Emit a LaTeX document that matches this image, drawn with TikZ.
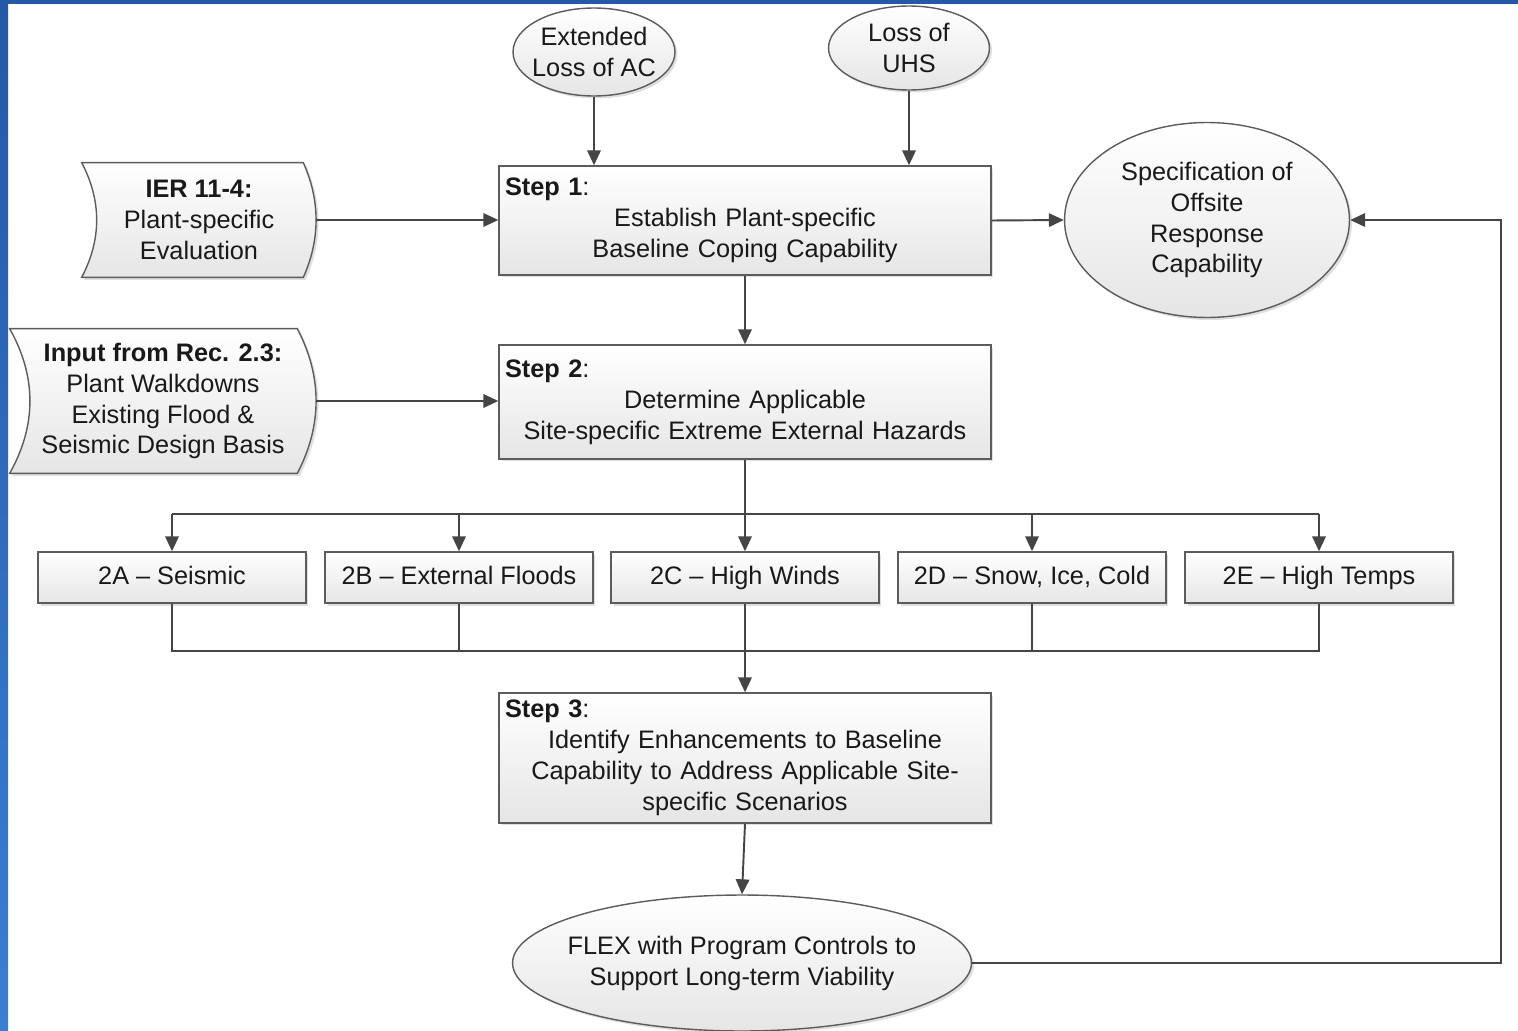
\documentclass[tikz,border=0pt]{standalone}
\usepackage{fontspec}
\setmainfont{Liberation Sans}
\usetikzlibrary{shapes.geometric,arrows.meta,shadows,calc,backgrounds}

\definecolor{wiregray}{HTML}{454545}
\definecolor{edgegray}{HTML}{5C5C5C}
\definecolor{slideblue}{HTML}{2459A7}
\definecolor{slidelight}{HTML}{3B7ED3}

\begin{document}
\begin{tikzpicture}
		[x=0.02cm, y=-0.02cm,
		every node/.style={font=\fontsize{14.4}{17.6}\selectfont, text=black!90},
		panel/.style={draw=edgegray, line width=0.8pt, top color=white, bottom color=black!10,
			drop shadow={shadow xshift=0.05cm, shadow yshift=-0.05cm, opacity=0.25}},
		stepbox/.style={rectangle, panel, minimum width=9.84cm, text width=9.6cm, align=center, inner xsep=2pt},
		hazard/.style={rectangle, panel, minimum width=5.36cm, minimum height=1.02cm, text height=10.5pt, text depth=3pt},
		oval/.style={ellipse, panel},
		ovaltext/.style={align=center},
		docin/.style={align=center, inner sep=0pt},
		wire/.style={draw=wiregray, line width=1.1pt},
		flow/.style={wire, -{Triangle[length=0.3cm, width=0.27cm]}}]
		\useasboundingbox (0,0) rectangle (1518,1031);
		% slide frame
		\fill[slideblue] (0,0) rectangle (1518,4);
		\shade[top color=slideblue, bottom color=slidelight] (0,0) rectangle (8,1031);

		% triggers
		\node[oval, minimum width=3.24cm, minimum height=1.76cm,
			label={[ovaltext]center:{Extended\\Loss of AC}}] (elac) at (594,52) {};
		\node[oval, minimum width=3.22cm, minimum height=1.68cm,
			label={[ovaltext]center:{Loss of\\UHS}}] (eluhs) at (909,48) {};

		% main steps
		\node[stepbox, minimum height=2.18cm] (s1) at (745,220.5)
			{\makebox[9.6cm][l]{\textbf{Step 1}:}\\Establish Plant-specific\\Baseline Coping Capability};
		\node[stepbox, minimum height=2.28cm] (s2) at (745,402)
			{\makebox[9.6cm][l]{\textbf{Step 2}:}\\Determine Applicable\\Site-specific Extreme External Hazards};
		\node[stepbox, minimum height=2.6cm] (s3) at (745,758)
			{\makebox[9.6cm][l]{\textbf{Step 3}:}\\Identify Enhancements to Baseline\\Capability to Address Applicable Site-\\specific Scenarios};

		% inputs
		\node[docin, minimum width=4.68cm, minimum height=2.28cm] (ier) at (199,220)
			{\textbf{IER 11-4:}\\Plant-specific\\Evaluation};
		\node[docin, minimum width=6.12cm, minimum height=2.88cm] (inp) at (163,401)
			{\textbf{Input from Rec. 2.3:}\\Plant Walkdowns\\Existing Flood \&\\Seismic Design Basis};
		\begin{scope}[on background layer]
			\path[panel] (ier.north west) -- ($(ier.north east)+(-13,0)$)
				.. controls +(17,38) and +(17,-38) .. ($(ier.south east)+(-13,0)$)
				-- (ier.south west) .. controls +(20,-38) and +(20,38) .. (ier.north west) -- cycle;
			\path[panel] (inp.north west) -- ($(inp.north east)+(-19,0)$)
				.. controls +(25,48) and +(25,-48) .. ($(inp.south east)+(-19,0)$)
				-- (inp.south west) .. controls +(27,-48) and +(27,48) .. (inp.north west) -- cycle;
		\end{scope}

		% outcomes
		\node[oval, minimum width=5.7cm, minimum height=3.9cm,
			label={[ovaltext]center:{Specification of\\Offsite\\Response\\Capability}}] (spec) at (1207,220) {};
		\node[oval, minimum width=9.18cm, minimum height=2.72cm,
			label={[ovaltext]center:{FLEX with Program Controls to\\Support Long-term Viability}}] (flex) at (742,963) {};

		% hazards
		\node[hazard] (h2a) at (172,577.5) {2A – Seismic};
		\node[hazard] (h2b) at (459,577.5) {2B – External Floods};
		\node[hazard] (h2c) at (745,577.5) {2C – High Winds};
		\node[hazard] (h2d) at (1032,577.5) {2D – Snow, Ice, Cold};
		\node[hazard] (h2e) at (1319,577.5) {2E – High Temps};

		\coordinate (split) at (745,514);
		\coordinate (join) at (745,651);
		\coordinate (loop) at (1501,220);

		% connectors
		\draw[flow] (elac.south) -- (elac.south |- s1.north);
		\draw[flow] (eluhs.south) -- (eluhs.south |- s1.north);
		\draw[flow] (ier.east) -- (ier.east -| s1.west);
		\draw[flow] (inp.east) -- (inp.east -| s2.west);
		\draw[flow] (s1.east) -- (spec.west);
		\draw[flow] (s1.south) -- (s2.north);

		\draw[wire] (h2a.north |- split) -- (h2e.north |- split);
		\draw[flow] (s2.south) -- (h2c.north);
		\draw[flow] (h2a.north |- split) -- (h2a.north);
		\draw[flow] (h2b.north |- split) -- (h2b.north);
		\draw[flow] (h2d.north |- split) -- (h2d.north);
		\draw[flow] (h2e.north |- split) -- (h2e.north);

		\draw[wire] (h2a.south) -- (h2a.south |- join) -- (h2e.south |- join) -- (h2e.south);
		\draw[wire] (h2b.south) -- (h2b.south |- join);
		\draw[wire] (h2d.south) -- (h2d.south |- join);
		\draw[flow] (h2c.south) -- (s3.north);

		\draw[flow] (s3.south) -- (flex.north);
		\draw[flow] (flex.east) -| (loop) -- (spec.east);
	\end{tikzpicture}
\end{document}
